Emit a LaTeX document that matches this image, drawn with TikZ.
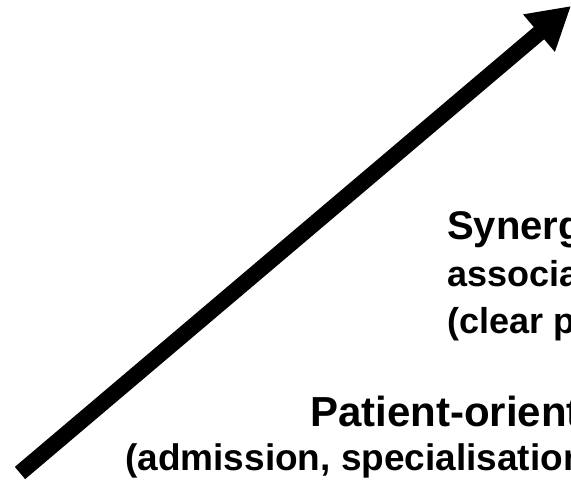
\documentclass[tikz,border=0pt]{standalone}
\usepackage{fontspec}
\setmainfont{Liberation Sans}
\usetikzlibrary{arrows.meta}
\tikzset{
  big/.style={anchor=base west, inner sep=0pt, font=\fontsize{40}{40}\selectfont\bfseries},
  bigger/.style={anchor=base west, inner sep=0pt, font=\fontsize{42}{42}\selectfont\bfseries},
  small/.style={anchor=base west, inner sep=0pt, font=\fontsize{36}{36}\selectfont\bfseries},
  smallb/.style={anchor=base west, inner sep=0pt, font=\fontsize{37}{37}\selectfont\bfseries},
  trend/.style={line width=16pt, -{Triangle[length=42pt,width=46pt]}}
}
\begin{document}
\begin{tikzpicture}[x=1pt,y=-1pt]
\useasboundingbox (0,0) rectangle (571,481);
\clip (0,0) rectangle (571,481);
\coordinate (start) at (20,473);
\coordinate (tip) at (571,6);
\draw[trend] (start) -- (tip);
\node[big] (syn) at (447,240) {Synerg};
\node[small] (assoc) at (447,287) {associa};
\node[small] (clear) at (447,334) {(clear p};
\node[bigger] (pat) at (310,427) {Patient-orient};
\node[smallb] (adm) at (125,471) {(admission, specialisation};
\end{tikzpicture}
\end{document}
